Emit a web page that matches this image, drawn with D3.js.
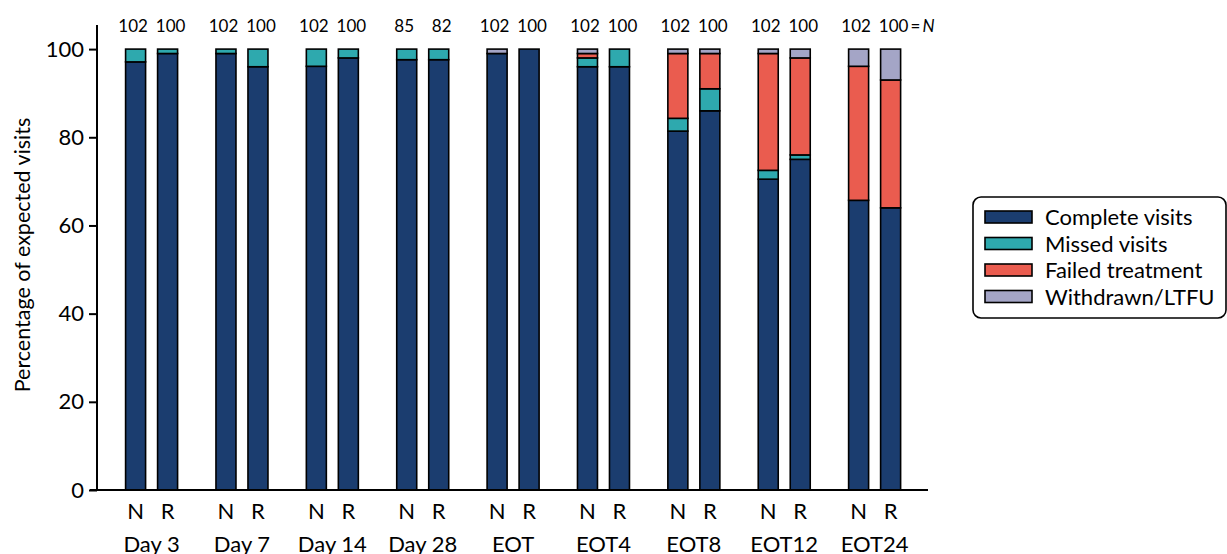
<!DOCTYPE html>
<html><head><meta charset="utf-8">
<script src="https://cdn.jsdelivr.net/npm/d3@7"></script>
<style>body{margin:0;background:#fff;} svg{display:block;font-family:Lato,"Open Sans",sans-serif;}</style>
</head><body>
<svg id="c" width="1227" height="554"></svg>
<script>
const groups = ["Day 3","Day 7","Day 14","Day 28","EOT","EOT4","EOT8","EOT12","EOT24"];
const arms = ["N","R"];
const countN = [102,102,102,85,102,102,102,102,102];
const countR = [100,100,100,82,100,100,100,100,100];
const seriesNames = ["Complete visits","Missed visits","Failed treatment","Withdrawn/LTFU"];
const seriesColors = ["#1b3d6f","#2ea9ae","#ea5c4f","#a4a5c6"];
const completeN  = [97.1, 99.0, 96.1, 97.6, 99.0, 96.0, 81.4, 70.5, 65.7];
const missedN    = [2.9, 1.0, 3.9, 2.4, 0, 2.0, 2.9, 2.0, 0];
const failedN    = [0, 0, 0, 0, 0, 1.0, 14.7, 26.5, 30.4];
const withdrawnN = [0, 0, 0, 0, 1.0, 1.0, 1.0, 1.0, 3.9];
const completeR  = [99, 96, 98, 97.6, 100, 96, 86, 75, 64];
const missedR    = [1, 4, 2, 2.4, 0, 4, 5, 1, 0];
const failedR    = [0, 0, 0, 0, 0, 0, 8, 22, 29];
const withdrawnR = [0, 0, 0, 0, 0, 0, 1, 2, 7];
const yTicks = [0,20,40,60,80,100];

const svg = d3.select("#c");
const x = d3.scaleBand().domain(groups).range([106.4, 919.8]).padding(0);
const inner = d3.scalePoint().domain(arms).range([-16, 16]);
const y = d3.scaleLinear().domain([0,100]).range([490, 49.1]);
const barW = 20;

const rows = [];
groups.forEach((g,i)=>{
  const sets = {N:[completeN[i],missedN[i],failedN[i],withdrawnN[i]], R:[completeR[i],missedR[i],failedR[i],withdrawnR[i]]};
  arms.forEach(a=>{
    let acc = 0;
    sets[a].forEach((v,k)=>{
      if (v>0) rows.push({g, a, k, y0:acc, y1:acc+v});
      acc += v;
    });
  });
});

const cx = (g,a)=> x(g)+x.bandwidth()/2+inner(a);

svg.append("g").selectAll("rect").data(rows).join("rect")
  .attr("x", d=>cx(d.g,d.a)-barW/2).attr("width", barW)
  .attr("y", d=>y(d.y1)).attr("height", d=>y(d.y0)-y(d.y1))
  .attr("fill", d=>seriesColors[d.k]).attr("stroke","#000").attr("stroke-width",1.6);

// axes
const yAxis = d3.axisLeft(y).tickValues(yTicks).tickSize(8).tickPadding(5);
const ga = svg.append("g").attr("transform","translate(97,0)").call(yAxis);
ga.select(".domain").attr("d","M0,25V490").attr("stroke","#000").attr("stroke-width",2);
ga.selectAll(".tick line").attr("stroke","#000").attr("stroke-width",2);
ga.selectAll(".tick text").attr("font-size",22).attr("fill","#000").attr("font-family","Lato");

svg.append("line").attr("x1",90).attr("x2",928).attr("y1",490).attr("y2",490).attr("stroke","#000").attr("stroke-width",2);

groups.forEach((g,i)=>{
  arms.forEach(a=>{
    svg.append("text").attr("x",cx(g,a)).attr("y",519).attr("text-anchor","middle")
      .attr("font-size",22).text(a);
    svg.append("text").attr("x",cx(g,a)+(a==="N"?-2.5:3)).attr("y",32).attr("text-anchor","middle")
      .attr("font-size",17).text(a==="N"?countN[i]:countR[i]);
  });
  svg.append("text").attr("x",x(g)+x.bandwidth()/2).attr("y",552).attr("text-anchor","middle")
    .attr("font-size",22).text(g);
});
const lastG = groups[groups.length-1];
const eqT = svg.append("text").attr("x",cx(lastG,"R")+20).attr("y",32).attr("font-size",17);
eqT.append("tspan").text("=\u2009");
eqT.append("tspan").attr("font-style","italic").text("N");

svg.append("text").attr("transform","translate(30,255) rotate(-90)").attr("text-anchor","middle")
  .attr("font-size",21.5).text("Percentage of expected visits");

// legend
const lg = svg.append("g");
lg.append("rect").attr("x",973).attr("y",197).attr("width",253).attr("height",121).attr("rx",8)
  .attr("fill","#fff").attr("stroke","#000").attr("stroke-width",1.6);
seriesNames.forEach((s,k)=>{
  const yy = 217 + k*26.5;
  lg.append("rect").attr("x",985).attr("y",yy-6).attr("width",47).attr("height",12)
    .attr("fill",seriesColors[k]).attr("stroke","#000").attr("stroke-width",1.6);
  lg.append("text").attr("x",1045).attr("y",yy+8).attr("font-size",22).text(s);
});
</script>
</body></html>
